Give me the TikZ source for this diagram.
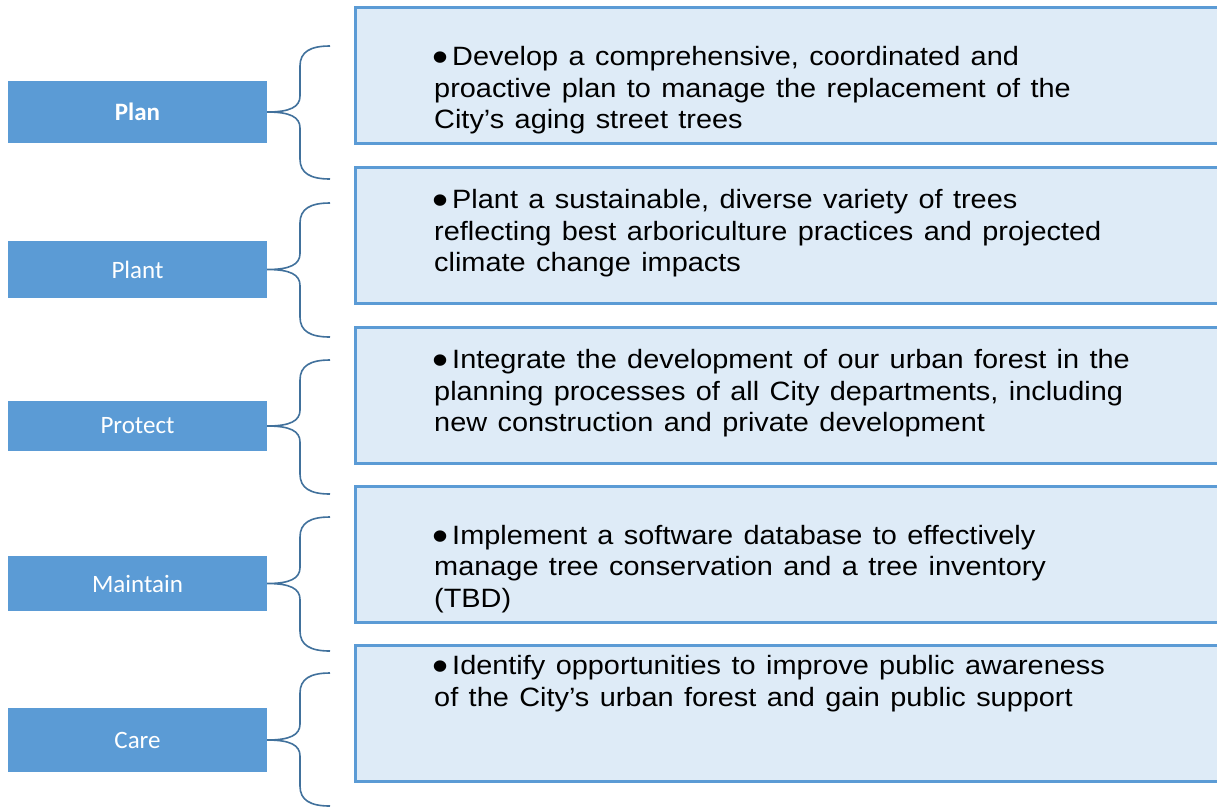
\documentclass[tikz,border=0pt]{standalone}
\usepackage{fontspec}
\setmainfont{Liberation Sans}[FakeStretch=1.09, WordSpace=1.3]
\newfontfamily\calfont{Carlito}
\definecolor{midblue}{HTML}{5B9BD5}
\definecolor{paleblue}{HTML}{DEEBF7}
\definecolor{bracecol}{HTML}{41719C}
\newcommand{\bigbul}{\hspace*{-2pt}\raisebox{-6pt}{\fontsize{42}{42}\selectfont\textbullet}\hspace{4pt}}
\tikzset{
  catbox/.style={fill=midblue, draw=none, minimum width=259pt, inner sep=0pt, text=white, font=\calfont\fontsize{25}{30}\selectfont},
  descbox/.style={fill=paleblue, draw=midblue, line width=3pt},
  desctext/.style={anchor=base west, inner sep=0pt, align=left, font=\fontsize{26.5}{31.5}\selectfont},
  bracepath/.style={draw=bracecol, line width=1.6pt},
}
\newcommand{\bracefrom}[4]{% node, top, mid, bottom
  \coordinate (#1-top) at (330,#2);
  \coordinate (#1-bot) at (330,#4);
  \draw[bracepath] (#1-top) .. controls (310,#2) and (300,#2+6) .. (300,#2+20)
     -- (300,#3-16) .. controls (300,#3-5) and (290,#3) .. (#1.east)
     .. controls (290,#3) and (300,#3+5) .. (300,#3+16)
     -- (300,#4-20) .. controls (300,#4-6) and (310,#4) .. (#1-bot);
}
\begin{document}
\begin{tikzpicture}[x=1pt,y=-1pt]
\useasboundingbox (0,0) rectangle (1217,807);

% right description boxes
\draw[descbox] (355,7) rectangle (1225,143);
\draw[descbox] (355,167) rectangle (1225,303);
\draw[descbox] (355,327) rectangle (1225,463);
\draw[descbox] (355,486) rectangle (1225,622);
\draw[descbox] (355,645) rectangle (1225,781);

% left category boxes
\node[catbox, minimum height=62pt] (plan) at (137.5,112) {\bfseries Plan};
\node[catbox, minimum height=57pt] (plant) at (137.5,269.5) {Plant};
\node[catbox, minimum height=50pt] (protect) at (137.5,426) {Protect};
\node[catbox, minimum height=55pt] (maintain) at (137.5,583.5) {Maintain};
\node[catbox, minimum height=64pt] (care) at (137.5,740) {Care};

% braces
\bracefrom{plan}{46}{112}{179}
\bracefrom{plant}{203}{269.5}{337}
\bracefrom{protect}{360}{426}{494}
\bracefrom{maintain}{517}{583.5}{651}
\bracefrom{care}{673}{740}{806}

% texts (anchored at the baseline of the last line)
\node[desctext] (t1) at (434,128.5) {\bigbul Develop a comprehensive, coordinated and\\proactive plan to manage the replacement of the\\City’s aging street trees};
\node[desctext] (t2) at (434,271.5) {\bigbul Plant a sustainable, diverse variety of trees\\reflecting best arboriculture practices and projected\\climate change impacts};
\node[desctext] (t3) at (434,431.5) {\bigbul Integrate the development of our urban forest in the\\planning processes of all City departments, including\\new construction and private development};
\node[desctext] (t4) at (434,607) {\bigbul Implement a software database to effectively\\manage tree conservation and a tree inventory\\(TBD)};
\node[desctext] (t5) at (434,706) {\bigbul Identify opportunities to improve public awareness\\of the City’s urban forest and gain public support};
\end{tikzpicture}
\end{document}
